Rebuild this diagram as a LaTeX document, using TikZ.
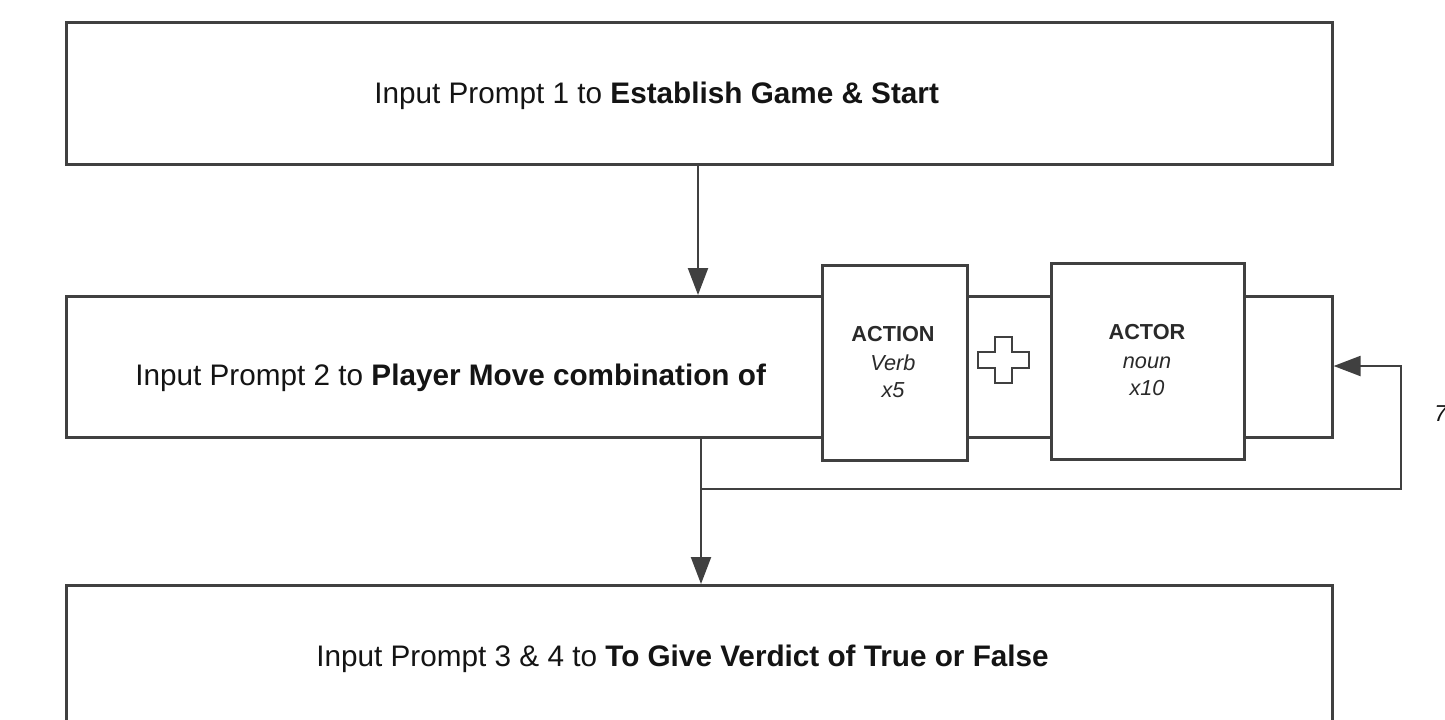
\documentclass[tikz,border=0pt]{standalone}
\usepackage{fontspec}
\setmainfont{Liberation Sans}
\usetikzlibrary{arrows.meta}
\definecolor{ln}{HTML}{404040}
\definecolor{tx}{HTML}{141414}
\definecolor{tx2}{HTML}{2a2a2a}
\begin{document}
\begin{tikzpicture}[x=0.5pt,y=-0.5pt,
  box/.style={draw=ln, line width=1.3pt, fill=white, inner sep=0pt, anchor=north west},
  conn/.style={draw=ln, line width=1.1pt},
  arr/.style={conn, -{Triangle[length=13.5pt,width=10pt]}},
  big/.style={font=\fontsize{14.85}{17}\selectfont, text=tx, inner sep=0pt, anchor=base west},
  small/.style={font=\fontsize{10.85}{13}\selectfont, text=tx2, inner sep=0pt, anchor=base},
]
\useasboundingbox (0,0) rectangle (1445,719);
\clip (0,0) rectangle (1445,719);
\fill[white] (0,0) rectangle (1445,719);

% boxes
\node[box, minimum width=633pt, minimum height=71pt] (top) at (65,21) {};
\node[box, minimum width=633pt, minimum height=70.5pt] (mid) at (65,295) {};
\node[box, minimum width=633pt, minimum height=110pt] (bot) at (65,584) {};
\node[box, minimum width=72.5pt, minimum height=97.5pt] (action) at (821,264) {};
\node[box, minimum width=96.5pt, minimum height=98pt] (actor) at (1050,262) {};

% texts
\node[big] (t1) at (374,103) {Input Prompt 1 to \textbf{Establish Game \& Start}};
\node[big] (t2) at (135,385) {Input Prompt 2 to \textbf{Player Move combination of}};
\node[big] (t3) at (316,666) {Input Prompt 3 \& 4 to \textbf{To Give Verdict of True or False}};

\node[small] (actT) at (893,341) {\textbf{ACTION}};
\node[small] (actV) at (893,370) {\itshape Verb};
\node[small] (actX) at (893,397) {\itshape x5};
\node[small] (acrT) at (1147,339) {\textbf{ACTOR}};
\node[small] (acrN) at (1147,368) {\itshape noun};
\node[small] (acrX) at (1147,395) {\itshape x10};

% plus sign
\draw[draw=ln, line width=1.1pt, fill=white]
  (995,337) -- (1012,337) -- (1012,352) -- (1029,352) -- (1029,368) -- (1012,368)
  -- (1012,383) -- (995,383) -- (995,368) -- (978,368) -- (978,352) -- (995,352) -- cycle;

% connector coordinates
\coordinate (a1) at (698,0);
\coordinate (a2) at (701,0);
\coordinate (j) at (701,489);
\coordinate (fr) at (1401,489);
\coordinate (fu) at (1401,366);

\draw[arr] (top.south -| a1) -- (mid.north -| a1);
\draw[arr] (mid.south -| a2) -- (bot.north -| a2);
\draw[arr] (j) -- (fr) -- (fu) -- (fu -| mid.east);

% text at right edge
\node[font=\fontsize{11.5}{13}\selectfont\itshape, text=tx, inner sep=0pt, anchor=base west] (seven) at (1434,421) {7};
\end{tikzpicture}
\end{document}
